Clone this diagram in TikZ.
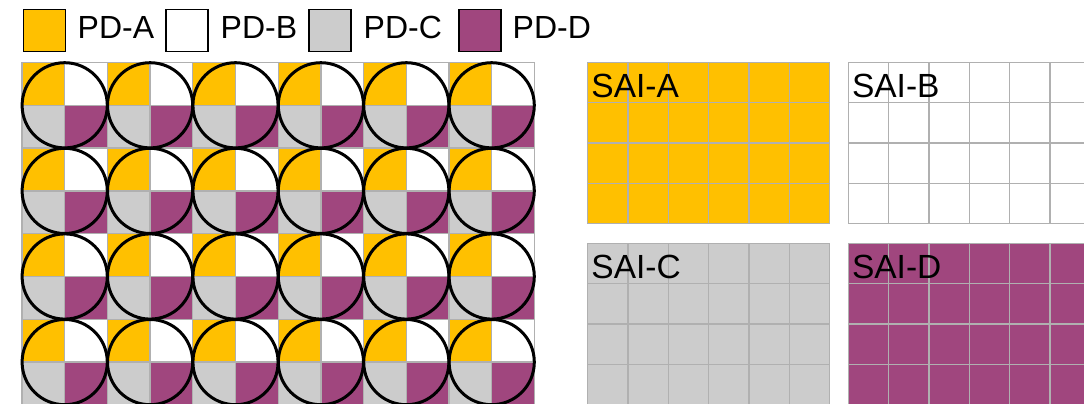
\documentclass[tikz,border=0pt]{standalone}
\usepackage{fontspec}
\setmainfont{Liberation Sans}
\definecolor{pdA}{RGB}{255,192,0}
\definecolor{pdB}{RGB}{255,255,255}
\definecolor{pdC}{RGB}{204,204,204}
\definecolor{pdD}{RGB}{160,70,126}
\definecolor{gridgray}{RGB}{176,176,176}
\begin{document}
\begin{tikzpicture}[x=1pt,y=-1pt,
  legbox/.style={draw=black, line width=1.6pt, minimum width=42pt, minimum height=42pt, inner sep=0pt, outer sep=0pt},
  legtext/.style={anchor=base west, inner sep=0pt, font=\fontsize{32}{38}\selectfont},
  saitext/.style={anchor=base west, inner sep=0pt, font=\fontsize{33.5}{40}\selectfont},
  gridline/.style={draw=gridgray, line width=1.3pt},
  ring/.style={draw=black, line width=3pt}]
\useasboundingbox (0,0) rectangle (1084,404);
\clip (0,0) rectangle (1084,404);
\fill[white] (0,0) rectangle (1084,404);

% legend
\node[legbox, fill=pdA] (lA) at (44.3,30.5) {};
\node[legtext] (tA) at (77.5,39) {PD-A};
\node[legbox, fill=pdB] (lB) at (186.8,30.5) {};
\node[legtext] (tB) at (220.5,39) {PD-B};
\node[legbox, fill=pdC] (lC) at (330,30.5) {};
\node[legtext] (tC) at (363.5,39) {PD-C};
\node[legbox, fill=pdD] (lD) at (480,30.5) {};
\node[legtext] (tD) at (512.5,39) {PD-D};

% left mosaic
\def\cw{42.7}
\def\ch{42.8}
\foreach \i in {0,...,5} {
  \foreach \j in {0,...,3} {
    \pgfmathsetmacro\xx{22+2*\cw*\i}
    \pgfmathsetmacro\yy{62.5+2*\ch*\j}
    \fill[pdA] (\xx,\yy) rectangle ++(\cw,\ch);
    \fill[pdB] (\xx+\cw,\yy) rectangle ++(\cw,\ch);
    \fill[pdC] (\xx,\yy+\ch) rectangle ++(\cw,\ch);
    \fill[pdD] (\xx+\cw,\yy+\ch) rectangle ++(\cw,\ch);
  }
}
\foreach \k in {0,...,12} {
  \pgfmathsetmacro\xx{22+\cw*\k}
  \draw[gridline] (\xx,62.5) -- (\xx,404.9);
}
\foreach \k in {0,...,8} {
  \pgfmathsetmacro\yy{62.5+\ch*\k}
  \draw[gridline] (22,\yy) -- (534.4,\yy);
}
\foreach \i in {0,...,5} {
  \foreach \j in {0,...,3} {
    \pgfmathsetmacro\xx{22+2*\cw*\i+\cw}
    \pgfmathsetmacro\yy{62.5+2*\ch*\j+\ch}
    \draw[ring] (\xx,\yy) circle[radius=42.6];
  }
}

% SAI panels
\def\sc{40.33}
\foreach \px/\py/\col/\lab in {587.7/62.3/pdA/SAI-A, 848.3/62.3/pdB/SAI-B, 587.7/243.3/pdC/SAI-C, 848.3/243.3/pdD/SAI-D} {
  \fill[\col] (\px,\py) rectangle ++(6*\sc,4*\sc);
  \foreach \k in {0,...,6} {
    \pgfmathsetmacro\xx{\px+\sc*\k}
    \draw[gridline] (\xx,\py) -- ++(0,4*\sc);
  }
  \foreach \k in {0,...,4} {
    \pgfmathsetmacro\yy{\py+\sc*\k}
    \draw[gridline] (\px,\yy) -- ++(6*\sc,0);
  }
  \node[saitext] (n\lab) at (\px+3.5,\py+35.2) {\lab};
}
\end{tikzpicture}
\end{document}
